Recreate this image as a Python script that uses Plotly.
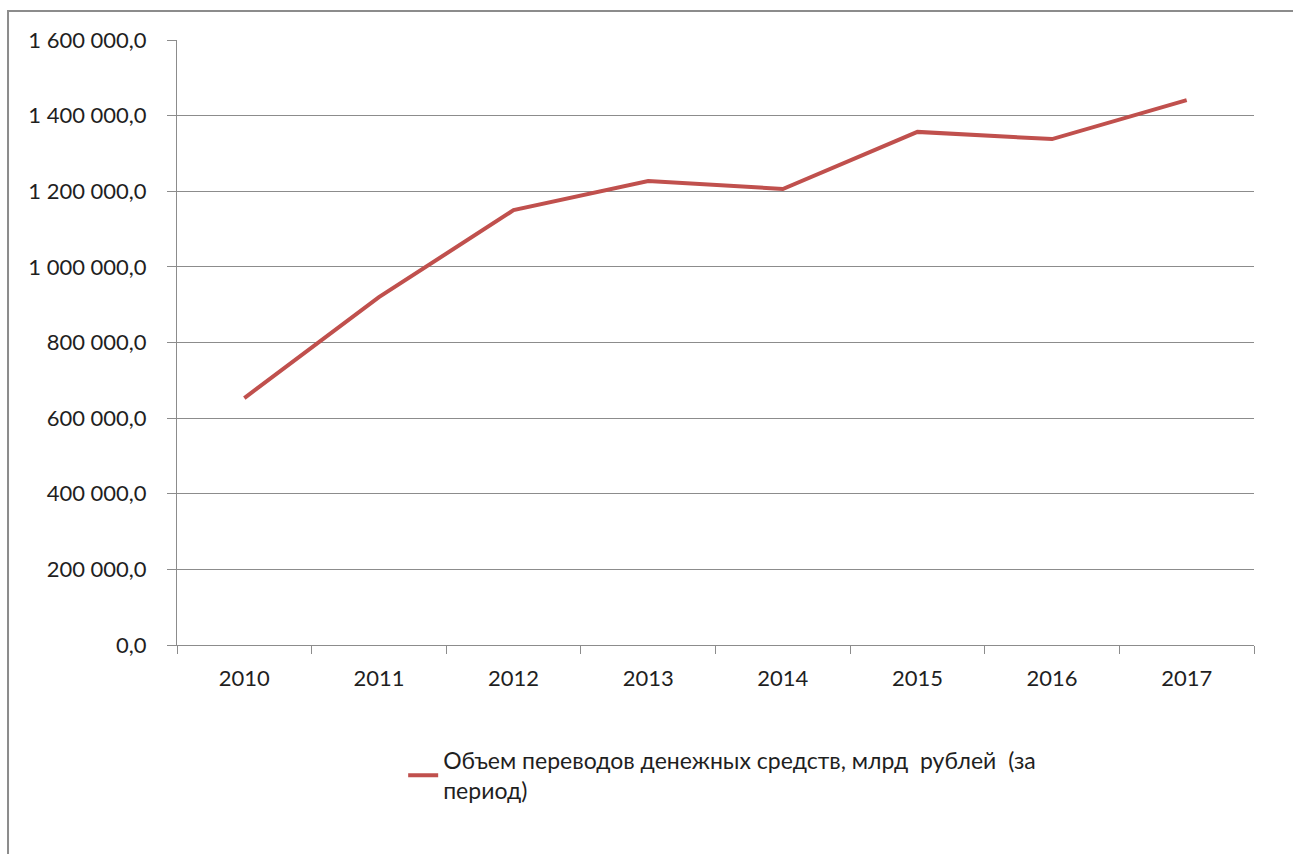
import plotly.graph_objects as go

# Annual volume of money transfers
years = ["2010", "2011", "2012", "2013", "2014", "2015", "2016", "2017"]
volume = [653000, 920000, 1150000, 1227000, 1206000, 1357000, 1338000, 1441000]
series_name = "Объем переводов денежных средств, млрд  рублей  (за<br>период)"

y_ticks = [0, 200000, 400000, 600000, 800000, 1000000, 1200000, 1400000, 1600000]

LINE_RED = "#C0504D"
GRID = "#8C8C8C"
TEXT = "#1F1F1F"
FONT = "Lato"

fig = go.Figure()
fig.add_trace(go.Scatter(
    x=years, y=volume, mode="lines", name=series_name,
    line=dict(color=LINE_RED, width=4),
))

fig.update_layout(
    width=1293, height=854,
    margin=dict(l=177, r=39, t=40, b=209),
    paper_bgcolor="white", plot_bgcolor="white",
    separators=", ",
    font=dict(family=FONT, size=22, color=TEXT),
    showlegend=True,
    legend=dict(
        x=0.21, y=-0.155, xanchor="left", yanchor="top",
        font=dict(family=FONT, size=23, color=TEXT),
        bgcolor="rgba(0,0,0,0)", itemwidth=30,
    ),
    xaxis=dict(
        type="category", tickson="boundaries", range=[-0.5, 7.5],
        showgrid=False, showline=True, linecolor=GRID, linewidth=1,
        ticks="outside", ticklen=8, tickcolor=GRID,
        ticklabelstandoff=14,
    ),
    yaxis=dict(
        range=[0, 1600000], tickvals=y_ticks, tickformat=",.1f",
        showgrid=True, gridcolor=GRID, gridwidth=1,
        showline=True, linecolor=GRID, linewidth=1,
        ticks="outside", ticklen=9, tickcolor=GRID,
        ticklabelstandoff=16, zeroline=False,
    ),
    shapes=[dict(
        type="rect", xref="paper", yref="paper",
        x0=-0.1569, x1=1.05, y0=-0.4, y1=1.048,
        line=dict(color="#8C8C8C", width=2), fillcolor="rgba(0,0,0,0)",
        layer="below",
    )],
)

fig.write_html("out.html")
